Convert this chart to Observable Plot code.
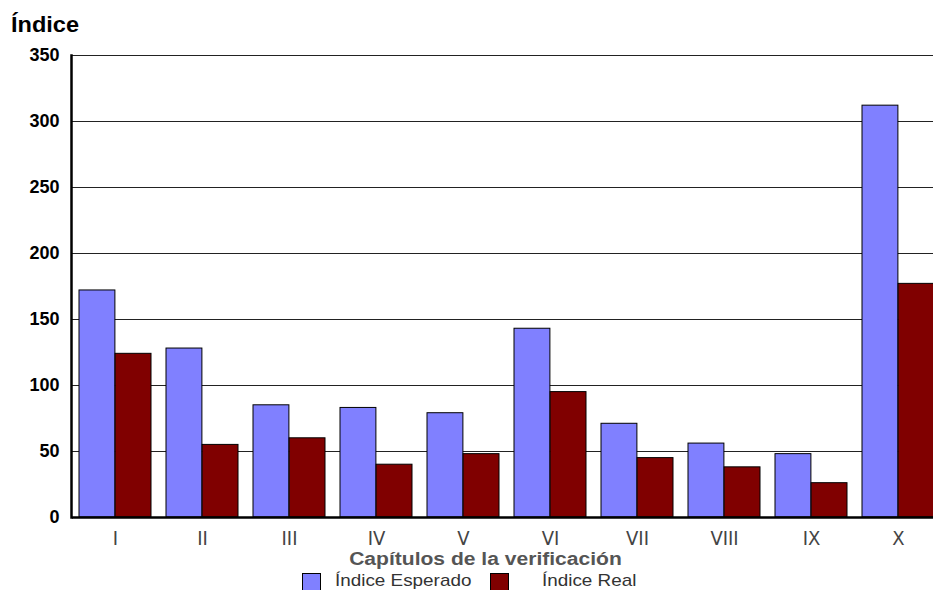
<!DOCTYPE html>
<html>
<head>
<meta charset="utf-8">
<script src="https://cdn.jsdelivr.net/npm/d3@7"></script>
<script src="https://cdn.jsdelivr.net/npm/@observablehq/plot@0.6"></script>
<style>
  html, body { margin: 0; padding: 0; background: #fff; overflow: hidden; width: 933px; height: 590px; }
  #wrap { position: relative; width: 933px; height: 590px; overflow: hidden; font-family: Arial, "Liberation Sans", sans-serif; }
  #ytitle { position: absolute; left: 11px; top: 12px; font-weight: bold; font-size: 22px; color: #000; transform: scaleX(1.07); transform-origin: left center; }
  #chart { position: absolute; left: 0; top: 0; width: 942px; }
  #chart svg { max-width: none !important; }
  #xtitle { position: absolute; left: 0; width: 971px; top: 549px; text-align: center; font-weight: bold; font-size: 18px; color: #555; transform: scaleX(1.17); transform-origin: 485.5px 50%; }
  #legend { position: absolute; top: 572px; left: 302px; font-size: 17px; color: #333; white-space: nowrap; }
  .sw { position: absolute; top: 1px; width: 19px; height: 18px; border: 1px solid #000; box-sizing: border-box; }
  .lt { position: absolute; top: -1px; transform: scaleX(1.11); transform-origin: left center; }
</style>
</head>
<body>
<div id="wrap">
  <div id="chart"></div>
  <div id="ytitle">Índice</div>
  <div id="xtitle">Capítulos de la verificación</div>
  <div id="legend"></div>
</div>
<script>
const chapters = ["I", "II", "III", "IV", "V", "VI", "VII", "VIII", "IX", "X"];
const esperado = [172, 128, 85, 83, 79, 143, 71, 56, 48, 312];
const real = [124, 55, 60, 40, 48, 95, 45, 38, 26, 177];
const seriesNames = ["Índice Esperado", "Índice Real"];
const seriesColors = ["#8080ff", "#800000"];
const yTicks = [0, 50, 100, 150, 200, 250, 300, 350];

const data = chapters.flatMap((c, i) => [
  {chapter: c, series: seriesNames[0], value: esperado[i]},
  {chapter: c, series: seriesNames[1], value: real[i]}
]);

const W = 942, marginLeft = 72, marginRight = 0;
const padInner = 0.17;
const step = (W - marginLeft - marginRight) / chapters.length;
const halfBand = step * (1 - padInner) / 2;

const plot = Plot.plot({
  width: W,
  height: 550,
  marginLeft, marginRight,
  marginTop: 55,
  marginBottom: 33,
  style: {fontFamily: "Arial, 'Liberation Sans', sans-serif", background: "transparent", overflow: "visible", maxWidth: "none"},
  x: {domain: chapters, paddingInner: padInner, paddingOuter: padInner / 2, label: null},
  y: {domain: [0, 350], label: null},
  color: {domain: seriesNames, range: seriesColors},
  marks: [
    Plot.ruleY(yTicks, {stroke: "#222", strokeWidth: 1.2}),
    Plot.barY(data.filter(d => d.series === seriesNames[0]), {x: "chapter", y: "value", fill: "series", stroke: "#000", strokeWidth: 1, insetRight: halfBand}),
    Plot.barY(data.filter(d => d.series === seriesNames[1]), {x: "chapter", y: "value", fill: "series", stroke: "#000", strokeWidth: 1, insetLeft: halfBand}),
    Plot.ruleY([0], {stroke: "#000", strokeWidth: 2.5}),
    Plot.frame({anchor: "left", stroke: "#000", strokeWidth: 2.5, dx: -1}),
    Plot.axisY({ticks: yTicks, tickSize: 0, tickPadding: 13, fontSize: 18, fontWeight: "bold", fill: "#000", label: null}),
    Plot.axisX({tickSize: 0, tickPadding: 13, fontSize: 20, fontFamily: "'Liberation Sans Narrow', 'Arial Narrow', 'DejaVu Sans Condensed', sans-serif", fill: "#444", label: null})
  ]
});
document.getElementById("chart").appendChild(plot);

const legend = document.getElementById("legend");
const offsets = [[0, 33], [188, 240]];
seriesNames.forEach((name, i) => {
  const sw = document.createElement("div");
  sw.className = "sw";
  sw.style.left = offsets[i][0] + "px";
  sw.style.background = seriesColors[i];
  legend.appendChild(sw);
  const t = document.createElement("div");
  t.className = "lt";
  t.style.left = offsets[i][1] + "px";
  t.textContent = name;
  legend.appendChild(t);
});
</script>
</body>
</html>
